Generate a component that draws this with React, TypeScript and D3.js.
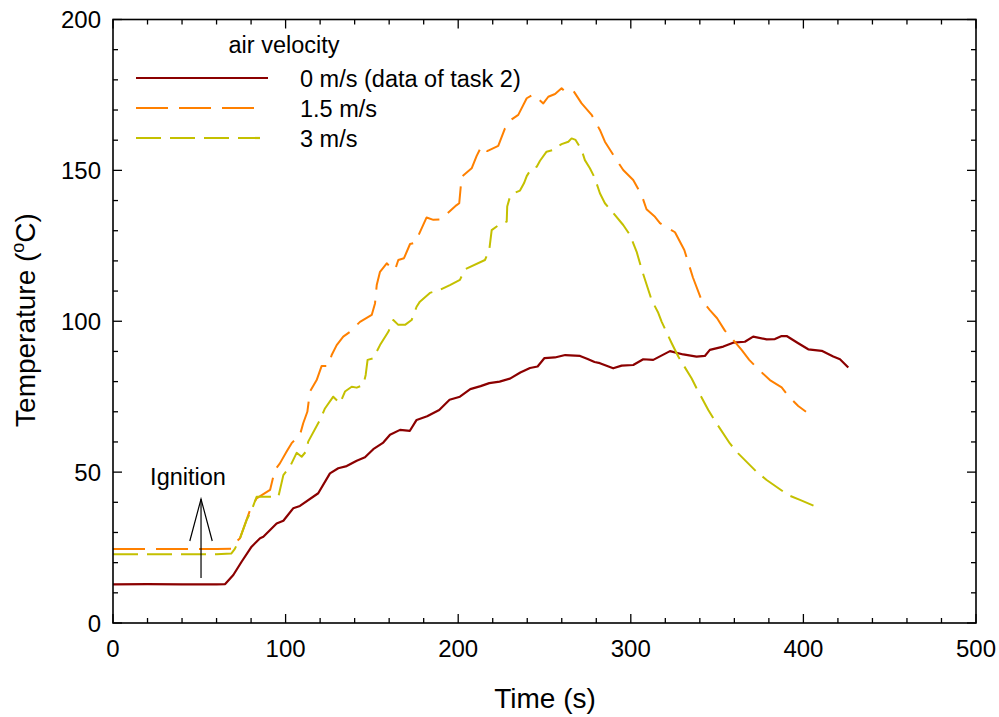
import React from "react";
import * as d3 from "d3";

// ---- data (time s, temperature °C) ----
const seriesNames = ["0 m/s (data of task 2)", "1.5 m/s", "3 m/s"];
const seriesColors = ["#8b0000", "#ff8000", "#c4c000"];

const v0Time = [0, 20, 40, 60, 65, 69.7, 74.5, 80.3, 85.2, 87.1, 94.8, 98.7, 104.4, 108.3, 118.9, 125.7, 130.5, 135.4, 141.2, 146, 150.8, 156.6, 160.5, 166.3, 172, 175.9, 182, 189, 195, 201, 207, 213, 218, 224, 230, 236, 241.6, 246, 250, 256, 262, 270.6, 275, 279, 282.1, 289.8, 294.7, 301.4, 307.2, 313, 322.7, 330.4, 338.1, 342.9, 345.8, 353.6, 359.3, 366.1, 370.9, 378.7, 383.5, 387.4, 390.3, 397, 402.8, 410.6, 417.3, 421.2, 426];
const v0Temp = [12.8, 12.9, 12.8, 12.8, 12.9, 15.9, 20.3, 25.3, 28.1, 28.6, 33.0, 33.9, 38.0, 38.8, 43.0, 49.6, 51.3, 52.0, 53.8, 54.9, 57.6, 59.8, 62.4, 64.0, 63.7, 67.3, 68.5, 70.6, 74.0, 75.0, 77.5, 78.5, 79.5, 80.0, 81.0, 83.0, 84.5, 85.0, 87.8, 88.0, 88.8, 88.5, 87.5, 86.5, 86.1, 84.4, 85.3, 85.5, 87.4, 87.2, 90.1, 89.0, 88.3, 88.5, 90.5, 91.6, 92.9, 93.2, 94.9, 94.0, 94.1, 95.1, 95.1, 92.7, 90.7, 90.2, 88.3, 87.4, 84.7];

const v15Time = [0, 20, 40, 60, 68.7, 70.5, 73.6, 79.4, 83.2, 91, 93.8, 96.7, 100.6, 103.5, 108.3, 110.2, 112.6, 114.1, 118, 120.9, 124.7, 126.7, 129.6, 133.4, 137.3, 143.1, 149.9, 151.8, 152.8, 154.7, 158.6, 161.5, 163.4, 165.3, 168.6, 172.1, 175, 181.7, 185.6, 190.4, 193.3, 199.1, 200.6, 202, 207.8, 210.7, 213.6, 216.8, 223.2, 227.1, 231, 234.8, 239.7, 243.5, 249.3, 252.2, 256.1, 259.9, 261.9, 266.7, 271.5, 277.3, 282.1, 285, 290.8, 295.6, 301.4, 306.3, 309.1, 314, 316.9, 325.6, 331, 336, 341, 345.8, 350, 354.5, 359.3, 364.2, 368.6, 374.8, 380.6, 387.4, 391.2, 397, 401.5];
const v15Temp = [24.5, 24.5, 24.5, 24.5, 24.6, 26.5, 28.1, 37.4, 41.3, 44.1, 50.7, 52.9, 56.8, 59.6, 62.3, 66.2, 70.0, 76.7, 80.5, 85.2, 85.2, 88.8, 92.1, 94.9, 96.5, 99.8, 102.1, 105.9, 112.0, 116.4, 119.2, 117.5, 117.0, 120.3, 120.9, 125.6, 126.0, 134.4, 133.6, 133.8, 135.5, 138.5, 139.1, 147.9, 150.7, 154.8, 158.1, 156.4, 158.1, 163.9, 166.9, 168.4, 173.9, 175.2, 172.2, 174.4, 175.3, 177.2, 176.1, 176.4, 172.2, 168.4, 163.4, 159.5, 154.3, 150.1, 146.8, 141.8, 137.1, 134.6, 132.5, 129.5, 123.6, 114.5, 107.0, 103.7, 101.0, 96.9, 93.8, 90.5, 87.2, 83.6, 80.5, 78.1, 75.3, 71.9, 70.0];

const v3Time = [0, 20, 40, 60, 68.5, 70.5, 73.6, 77.4, 80.3, 83.2, 89, 95.8, 98.7, 102.5, 106.4, 109.3, 111.8, 113.1, 119.9, 122.8, 127.6, 131.5, 134.4, 138.3, 141.2, 145, 146.4, 147.5, 150.8, 154.7, 159.5, 162.4, 165.3, 169.2, 173, 175.9, 177.8, 183.6, 189.4, 195.2, 201, 203.9, 215.5, 218, 219.4, 224.2, 228.1, 228.4, 230, 232.9, 235.8, 238.1, 239.7, 242.5, 245.5, 247.4, 251.2, 255.1, 257, 259.9, 263.8, 265.7, 268, 271.5, 273.4, 276.3, 279.2, 282.1, 285, 289.9, 295.6, 299.5, 303.4, 306.3, 312.1, 315.9, 317.9, 323.7, 327.5, 335.2, 338.1, 344.9, 348.7, 357.4, 362.2, 372.9, 378.7, 391.2, 398, 409.6];
const v3Temp = [22.8, 22.8, 22.8, 22.8, 23.0, 24.5, 28.1, 34.1, 37.4, 41.8, 41.8, 41.8, 49.0, 51.8, 56.4, 55.1, 56.8, 60.1, 67.3, 71.1, 75.0, 72.8, 76.7, 78.3, 78.0, 78.9, 82.2, 87.2, 87.7, 92.1, 96.5, 100.4, 98.8, 98.8, 100.4, 104.8, 106.5, 109.4, 110.4, 112.0, 113.7, 117.2, 120.3, 123.6, 130.2, 132.2, 133.0, 138.0, 141.3, 142.6, 143.3, 145.7, 148.1, 150.7, 151.2, 153.2, 156.2, 156.8, 157.8, 158.7, 159.5, 160.6, 160.1, 156.8, 153.4, 150.7, 147.4, 142.4, 139.1, 135.8, 131.9, 128.6, 123.0, 117.2, 107.0, 102.8, 99.8, 92.7, 88.3, 81.1, 77.8, 70.6, 67.0, 59.5, 56.2, 50.1, 47.4, 42.4, 40.8, 38.0];

const xTicks = [0, 100, 200, 300, 400, 500];
const yTicks = [0, 50, 100, 150, 200];

const W = 999;
const H = 717;
const M = { left: 113, right: 976, top: 19.5, bottom: 623 };
const FONT = "'Liberation Sans', Arial, Helvetica, sans-serif";

export default function App() {
  const x = d3.scaleLinear().domain([0, 500]).range([M.left, M.right]);
  const y = d3.scaleLinear().domain([0, 200]).range([M.bottom, M.top]);
  const line = d3
    .line<[number, number]>()
    .x((d) => x(d[0]))
    .y((d) => y(d[1]));

  const series = [
    { pts: v0Time.map((t, i) => [t, v0Temp[i]] as [number, number]), dash: undefined as string | undefined, w: 2.2 },
    { pts: v15Time.map((t, i) => [t, v15Temp[i]] as [number, number]), dash: "32,11", w: 2 },
    { pts: v3Time.map((t, i) => [t, v3Temp[i]] as [number, number]), dash: "25,9", w: 2 },
  ];

  const xMinor = d3.range(0, 501, 20);
  const yMinor = d3.range(0, 201, 10);

  return (
    <svg
      width={W}
      height={H}
      style={{ position: "absolute", left: 0, top: 0, background: "#fff" }}
      fontFamily={FONT}
    >
      <rect x={0} y={0} width={W} height={H} fill="#fff" />
      {/* ticks */}
      <g stroke="#000" strokeWidth={1.3}>
        {xMinor.map((v) => {
          const major = v % 100 === 0;
          const len = major ? 9 : 5;
          return (
            <g key={"xt" + v}>
              <line x1={x(v)} x2={x(v)} y1={M.bottom} y2={M.bottom - len} />
              <line x1={x(v)} x2={x(v)} y1={M.top} y2={M.top + len} />
            </g>
          );
        })}
        {yMinor.map((v) => {
          const major = v % 50 === 0;
          const len = major ? 9 : 5;
          return (
            <g key={"yt" + v}>
              <line x1={M.left} x2={M.left + len} y1={y(v)} y2={y(v)} />
              <line x1={M.right} x2={M.right - len} y1={y(v)} y2={y(v)} />
            </g>
          );
        })}
      </g>
      {/* series */}
      <g fill="none" strokeLinejoin="round">
        {series.map((s, i) => (
          <path
            key={"s" + i}
            d={line(s.pts) || ""}
            stroke={seriesColors[i]}
            strokeWidth={s.w}
            strokeDasharray={s.dash}
          />
        ))}
      </g>
      {/* frame */}
      <rect
        x={M.left}
        y={M.top}
        width={M.right - M.left}
        height={M.bottom - M.top}
        fill="none"
        stroke="#000"
        strokeWidth={1.6}
      />
      {/* tick labels */}
      <g fontSize={24} fill="#000">
        {xTicks.map((v) => (
          <text key={"xl" + v} x={x(v)} y={657} textAnchor="middle">
            {v}
          </text>
        ))}
        {yTicks.map((v) => (
          <text key={"yl" + v} x={101} y={y(v) + 8.5} textAnchor="end">
            {v}
          </text>
        ))}
      </g>
      {/* axis titles */}
      <text x={545} y={708} fontSize={28} textAnchor="middle" fill="#000">
        Time (s)
      </text>
      <text
        transform="translate(35,320) rotate(-90)"
        fontSize={28}
        textAnchor="middle"
        fill="#000"
      >
        Temperature (<tspan fontSize={18} dy={-11}>o</tspan>
        <tspan dy={11}>C)</tspan>
      </text>
      {/* legend */}
      <text x={284} y={53} fontSize={23.5} textAnchor="middle" fill="#000">
        air velocity
      </text>
      {seriesNames.map((n, i) => (
        <g key={"lg" + i}>
          <line
            x1={136}
            x2={i === 0 ? 268 : i === 1 ? 255 : 260}
            y1={78 + i * 30}
            y2={78 + i * 30}
            stroke={seriesColors[i]}
            strokeWidth={2.2}
            strokeDasharray={series[i].dash}
          />
          <text x={300} y={86.5 + i * 30} fontSize={23.5} fill="#000">
            {n}
          </text>
        </g>
      ))}
      {/* ignition annotation */}
      <text x={188} y={485} fontSize={23.5} textAnchor="middle" fill="#000">
        Ignition
      </text>
      <g stroke="#000" strokeWidth={1.2} fill="none">
        <line x1={x(51)} x2={x(51)} y1={578} y2={499} />
        <polyline points={`${x(44.5)},541 ${x(51)},499 ${x(57.5)},541`} />
      </g>
    </svg>
  );
}
